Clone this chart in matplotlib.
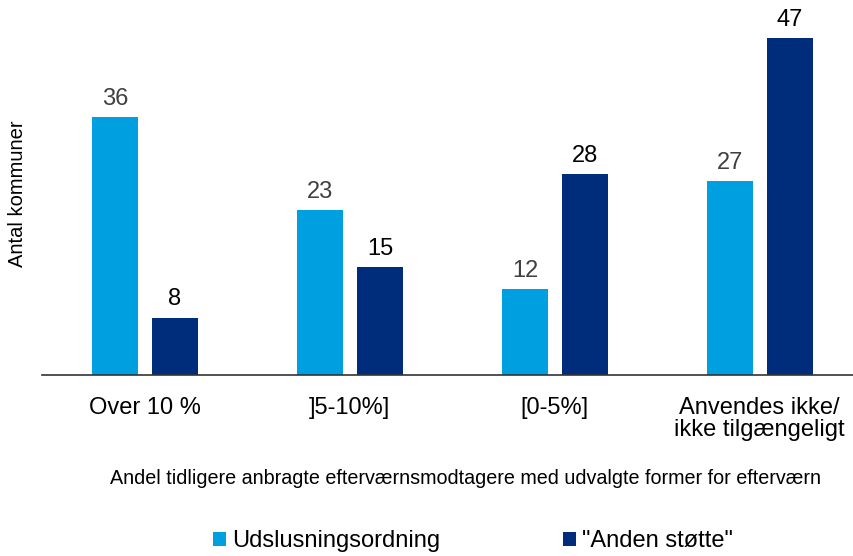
import numpy as np
import matplotlib.pyplot as plt

plt.rcParams['font.family'] = ['Liberation Sans', 'DejaVu Sans']

categories = ['Over 10 %', ']5-10%]', '[0-5%]', 'Anvendes ikke/\nikke tilgængeligt']
udslusning = [36, 23, 12, 27]
anden = [8, 15, 28, 47]
series_names = ['Udslusningsordning', '"Anden støtte"']

light = '#00A0E0'
dark = '#002C7C'

fig = plt.figure(figsize=(8.54, 5.56), dpi=100)
ax = fig.add_axes([42 / 854, 1 - 375 / 556, 1 - 42 / 854, 375 / 556])

x = np.arange(len(categories))
w = 0.224
b1 = ax.bar(x - 0.144, udslusning, w, color=light, label=series_names[0])
b2 = ax.bar(x + 0.149, anden, w, color=dark, label=series_names[1])

for rect, v in zip(b1, udslusning):
    ax.text(rect.get_x() + rect.get_width() / 2, v + 1.0, str(v), ha='center', va='bottom',
            fontsize=17, color='#404040')
for rect, v in zip(b2, anden):
    ax.text(rect.get_x() + rect.get_width() / 2, v + 1.0, str(v), ha='center', va='bottom',
            fontsize=17, color='black')

ax.set_xlim(-0.5, -0.5 + (854 - 42) / 205)
ax.set_ylim(0, 375 / 7.17)
ax.set_xticks(x)
ax.set_xticklabels(categories, fontsize=17, linespacing=1.05)
ax.tick_params(axis='x', length=0, pad=15.5)
ax.set_yticks([])
for s in ['top', 'right', 'left']:
    ax.spines[s].set_visible(False)
ax.spines['bottom'].set_color('#333333')
ax.spines['bottom'].set_linewidth(1.2)

fig.text(18 / 854, 1 - 194 / 556, 'Antal kommuner', rotation=90, ha='center', va='center', fontsize=14.5)
fig.text(466 / 854, 1 - 478 / 556, 'Andel tidligere anbragte efterværnsmodtagere med udvalgte former for efterværn',
         ha='center', va='center', fontsize=14.2)

fig.legend(handles=[b1, b2], labels=series_names, loc='center', bbox_to_anchor=(473 / 854, 1 - 541 / 556),
           ncol=2, frameon=False, fontsize=17, handlelength=0.55, handleheight=0.55, handletextpad=0.25,
           columnspacing=5.2)

fig.savefig('out.png', dpi=100)
